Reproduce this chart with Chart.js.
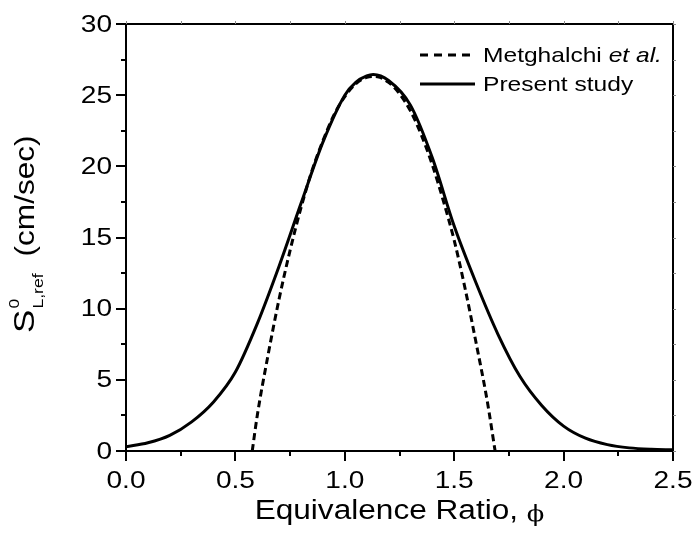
<!DOCTYPE html>
<html>
<head>
<meta charset="utf-8">
<script src="https://cdn.jsdelivr.net/npm/chart.js@4"></script>
<style>
html, body { margin: 0; padding: 0; background: #fff; }
</style>
</head>
<body>
<canvas id="myChart" width="695" height="534"></canvas>
<script>
// values
const phiPresent = [0, 0.1, 0.2, 0.3, 0.4, 0.5, 0.6, 0.7, 0.8, 0.9, 1.0, 1.05, 1.1, 1.13, 1.2, 1.3, 1.4, 1.5, 1.6, 1.7, 1.8, 1.9, 2.0, 2.1, 2.2, 2.3, 2.4, 2.5]
const sPresent = [0.30, 0.58, 1.10, 2.05, 3.45, 5.55, 8.95, 13.0, 17.4, 21.7, 25.0, 25.9, 26.35, 26.45, 26.03, 24.3, 20.6, 15.8, 11.8, 8.2, 5.25, 3.2, 1.75, 0.90, 0.45, 0.22, 0.12, 0.08]

const phiMetghalchi = [0.577, 0.6, 0.65, 0.7, 0.75, 0.8, 0.85, 0.9, 0.95, 1.0, 1.05, 1.1, 1.13, 1.15, 1.2, 1.25, 1.3, 1.35, 1.4, 1.45, 1.5, 1.55, 1.6, 1.65, 1.687]
const sMetghalchi = [0.0, 2.5, 6.8, 10.7, 14.1, 17.1, 19.7, 21.8, 23.6, 24.9, 25.8, 26.25, 26.32, 26.3, 25.9, 25.1, 23.9, 22.2, 20.1, 17.6, 14.8, 11.4, 7.6, 3.6, 0.0]

const xTicks = [0, 0.5, 1.0, 1.5, 2.0, 2.5]
const xTickLabels = ['0.0', '0.5', '1.0', '1.5', '2.0', '2.5']
const xMinorTicks = [0.25, 0.75, 1.25, 1.75, 2.25]
const yTicks = [0, 5, 10, 15, 20, 25, 30]
const yTickLabels = ['0', '5', '10', '15', '20', '25', '30']
const yMinorTicks = [2.5, 7.5, 12.5, 17.5, 22.5, 27.5]

const seriesLabels = ['Metghalchi', 'Present study']

const SX = 1.17  // the reference font is wider than Arial
const FONT = '"Liberation Sans", Arial, sans-serif'

const toPoints = (xs, ys) => xs.map((x, i) => ({ x: x, y: ys[i] }))

// draws text stretched along its own baseline
const wideText = (ctx, txt, x, y, align) => {
  ctx.save()
  ctx.translate(x, y)
  ctx.scale(SX, 1)
  ctx.textAlign = align
  ctx.fillText(txt, 0, 0)
  ctx.restore()
}
const wideWidth = (ctx, txt) => ctx.measureText(txt).width * SX

const framePlugin = {
  id: 'frame',
  afterDraw(chart) {
    const ctx = chart.ctx
    const a = chart.chartArea
    const xs = chart.scales.x
    const ys = chart.scales.y
    ctx.save()
    ctx.strokeStyle = '#000'
    ctx.fillStyle = '#000'
    ctx.lineWidth = 2
    ctx.strokeRect(a.left, a.top, a.right - a.left, a.bottom - a.top)

    // ticks: outward on left/bottom, small mirror ticks on top/right
    ctx.beginPath()
    yTicks.forEach(v => {
      const p = Math.round(ys.getPixelForValue(v))
      ctx.moveTo(a.left - 10, p); ctx.lineTo(a.left, p)
    })
    yMinorTicks.forEach(v => {
      const p = Math.round(ys.getPixelForValue(v))
      ctx.moveTo(a.left - 5, p); ctx.lineTo(a.left, p)
    })
    xTicks.forEach(v => {
      const p = Math.round(xs.getPixelForValue(v))
      ctx.moveTo(p, a.bottom); ctx.lineTo(p, a.bottom + 10)
    })
    xMinorTicks.forEach(v => {
      const p = Math.round(xs.getPixelForValue(v))
      ctx.moveTo(p, a.bottom); ctx.lineTo(p, a.bottom + 5)
    })
    ctx.stroke()
    ctx.lineWidth = 1
    ctx.strokeStyle = '#888'
    ctx.beginPath()
    yTicks.concat(yMinorTicks).forEach(v => {
      const p = Math.round(ys.getPixelForValue(v)) + 0.5
      ctx.moveTo(a.right, p); ctx.lineTo(a.right + 3, p)
    })
    xTicks.concat(xMinorTicks).forEach(v => {
      const p = Math.round(xs.getPixelForValue(v)) + 0.5
      ctx.moveTo(p, a.top); ctx.lineTo(p, a.top - 3)
    })
    ctx.stroke()

    // tick labels
    ctx.font = '24px ' + FONT
    ctx.textBaseline = 'middle'
    yTicks.forEach((v, i) => {
      wideText(ctx, yTickLabels[i], a.left - 14, ys.getPixelForValue(v) + 1, 'right')
    })
    xTicks.forEach((v, i) => {
      wideText(ctx, xTickLabels[i], xs.getPixelForValue(v), a.bottom + 30, 'center')
    })

    // x title
    ctx.textBaseline = 'alphabetic'
    ctx.font = '27px ' + FONT
    const t1 = 'Equivalence Ratio, '
    const w1 = wideWidth(ctx, t1)
    ctx.font = '22px "DejaVu Serif", serif'
    const w2 = wideWidth(ctx, 'ϕ')
    let x0 = (a.left + a.right) / 2 - (w1 + w2) / 2
    ctx.font = '27px ' + FONT
    wideText(ctx, t1, x0, 519, 'left')
    ctx.font = '22px "DejaVu Serif", serif'
    wideText(ctx, 'ϕ', x0 + w1, 521, 'left')

    // y title, rotated
    ctx.save()
    ctx.translate(34, 333)
    ctx.rotate(-Math.PI / 2)
    ctx.textAlign = 'left'
    ctx.font = '30px ' + FONT
    const wS = wideWidth(ctx, 'S')
    wideText(ctx, 'S', 0, 0, 'left')
    ctx.font = '15px ' + FONT
    wideText(ctx, '0', wS + 1, -15, 'left')
    const wSub = wideWidth(ctx, 'L,ref')
    wideText(ctx, 'L,ref', wS + 1, 9, 'left')
    ctx.font = '27px ' + FONT
    wideText(ctx, '(cm/sec)', wS + 1 + wSub + 17, 0, 'left')
    ctx.restore()

    // legend
    const lx = 420, lw = 55, ty1 = 55, ty2 = 84
    ctx.lineWidth = 3
    ctx.strokeStyle = '#000'
    ctx.setLineDash([8, 6])
    ctx.beginPath(); ctx.moveTo(lx, ty1); ctx.lineTo(lx + lw, ty1); ctx.stroke()
    ctx.setLineDash([])
    ctx.beginPath(); ctx.moveTo(lx, ty2); ctx.lineTo(lx + lw, ty2); ctx.stroke()
    ctx.textBaseline = 'middle'
    ctx.font = '21px ' + FONT
    wideText(ctx, seriesLabels[0] + ' ', lx + lw + 8, ty1 + 1, 'left')
    const wm = wideWidth(ctx, seriesLabels[0] + ' ')
    ctx.font = 'italic 21px ' + FONT
    wideText(ctx, 'et al.', lx + lw + 8 + wm, ty1 + 1, 'left')
    ctx.font = '21px ' + FONT
    wideText(ctx, seriesLabels[1], lx + lw + 8, ty2 + 1, 'left')
    ctx.restore()
  }
}

const ctx = document.getElementById('myChart')

const myChart = new Chart(ctx, {
  type: 'line',
  data: {
    datasets: [
      {
        label: seriesLabels[0],
        data: toPoints(phiMetghalchi, sMetghalchi),
        borderColor: '#000',
        borderWidth: 3,
        borderDash: [7, 4],
        pointRadius: 0,
        cubicInterpolationMode: 'monotone',
        fill: false,
        order: 1
      },
      {
        label: seriesLabels[1],
        data: toPoints(phiPresent, sPresent),
        borderColor: '#000',
        borderWidth: 3,
        pointRadius: 0,
        cubicInterpolationMode: 'monotone',
        fill: false,
        order: 0
      }
    ]
  },
  options: {
    responsive: false,
    animation: false,
    devicePixelRatio: 1,
    layout: { padding: { left: 126, right: 22, top: 24, bottom: 83 } },
    plugins: { legend: { display: false }, tooltip: { enabled: false } },
    scales: {
      x: { type: 'linear', min: 0, max: 2.5, display: false },
      y: { type: 'linear', min: 0, max: 30, display: false }
    }
  },
  plugins: [framePlugin]
});
</script>
</body>
</html>
